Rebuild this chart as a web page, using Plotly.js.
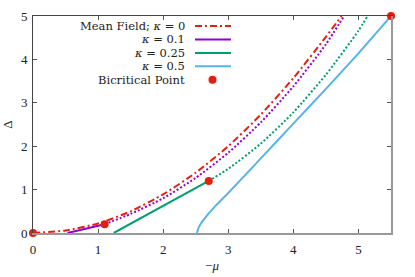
<!DOCTYPE html>
<html><head><meta charset="utf-8">
<script src="https://cdn.plot.ly/plotly-3.0.1.min.js"></script>
<style>html,body{margin:0;padding:0;background:#fff;}#chart{width:415px;height:277px;}</style>
</head><body><div id="chart"></div>
<script>
// Mean field, kappa = 0
const mfX = [0, 0.5, 1, 1.5, 2, 2.5, 3, 3.5, 4, 4.5, 4.74];
const mfY = [0, 0.06, 0.22, 0.5, 0.89, 1.39, 2.0, 2.73, 3.57, 4.52, 5.0];
// kappa = 0.1
const k1SolidX = [0.53, 0.8, 1.1];
const k1SolidY = [0, 0.09, 0.2];
const k1DotX = [1.1, 1.5, 2, 2.5, 3, 3.5, 4, 4.5, 4.78];
const k1DotY = [0.2, 0.44, 0.8, 1.27, 1.85, 2.55, 3.38, 4.35, 5.0];
// kappa = 0.25
const k2SolidX = [1.24, 1.6, 2, 2.35, 2.7];
const k2SolidY = [0, 0.3, 0.62, 0.91, 1.2];
const k2DotX = [2.7, 3, 3.5, 4, 4.5, 5, 5.14];
const k2DotY = [1.2, 1.48, 2.06, 2.78, 3.65, 4.66, 5.0];
// kappa = 0.5
const k3X = [2.52, 2.53, 2.55, 2.58, 2.63, 2.7, 2.8, 2.9, 3.0, 3.5, 4, 4.5, 5, 5.5];
const k3Y = [0, 0.06, 0.14, 0.22, 0.32, 0.45, 0.62, 0.77, 0.92, 1.72, 2.52, 3.32, 4.14, 5.0];
// Bicritical points
const bcX = [0, 1.1, 2.7, 5.5];
const bcY = [0, 0.2, 1.2, 5.0];

const legendLabels = ['Mean Field; <i>κ</i> = 0', '<i>κ</i> = 0.1', '<i>κ</i> = 0.25', '<i>κ</i> = 0.5', 'Bicritical Point'];
const xTicks = [0, 1, 2, 3, 4, 5];
const yTicks = [0, 1, 2, 3, 4, 5];

const RED = '#e51e10', PURPLE = '#9400d3', GREEN = '#009e73', BLUE = '#56b4e9';
const FONT = '"Liberation Serif", "DejaVu Serif", serif';
const LFONT = '"DejaVu Serif", "Liberation Serif", serif';
const DOT = '2px,2px';
const DASHDOT = '7px,3px,2px,3px';

const traces = [
  {x: k3X, y: k3Y, mode: 'lines', line: {color: BLUE, width: 2, shape: 'spline', smoothing: 0.6}},
  {x: k2DotX, y: k2DotY, mode: 'lines', line: {color: GREEN, width: 2, dash: DOT, shape: 'spline', smoothing: 0.6}},
  {x: k2SolidX, y: k2SolidY, mode: 'lines', line: {color: GREEN, width: 2}},
  {x: k1DotX, y: k1DotY, mode: 'lines', line: {color: PURPLE, width: 2, dash: DOT, shape: 'spline', smoothing: 0.6}},
  {x: k1SolidX, y: k1SolidY, mode: 'lines', line: {color: PURPLE, width: 2}},
  {x: mfX, y: mfY, mode: 'lines', line: {color: RED, width: 2, dash: DASHDOT, shape: 'spline', smoothing: 0.6}},
  {x: bcX, y: bcY, mode: 'markers', marker: {color: RED, size: 8}, cliponaxis: false},
  // top / right frame axes
  {x: [], y: [], xaxis: 'x2', yaxis: 'y2', mode: 'lines'}
].map(t => Object.assign({showlegend: false, hoverinfo: 'skip'}, t));

// legend geometry (paper coordinates)
const rowY = [0.954, 0.892, 0.830, 0.768, 0.706];
const textRight = 0.4274, sampleL = 0.4525, sampleR = 0.5531, dotX = 0.5014;
const annotations = legendLabels.map((t, i) => ({
  xref: 'paper', yref: 'paper', x: textRight, y: rowY[i], xanchor: 'right', yanchor: 'middle',
  text: t, showarrow: false, borderpad: 0, font: {family: LFONT, size: 11.5, color: '#222'}
}));
const sampleStyles = [
  {color: RED, width: 2, dash: DASHDOT},
  {color: PURPLE, width: 2},
  {color: GREEN, width: 2},
  {color: BLUE, width: 2}
];
const shapes = sampleStyles.map((s, i) => ({
  type: 'line', xref: 'paper', yref: 'paper', x0: sampleL, x1: sampleR, y0: rowY[i], y1: rowY[i], line: s
}));
shapes.push({type: 'circle', xref: 'paper', yref: 'paper', xsizemode: 'pixel', ysizemode: 'pixel',
  xanchor: dotX, yanchor: rowY[4], x0: -4, x1: 4, y0: -4, y1: 4, fillcolor: RED, line: {width: 0}});

const axisCommon = {
  ticks: 'inside', ticklen: 4, tickcolor: '#555', tickwidth: 1,
  showgrid: false, zeroline: false, fixedrange: true,
  tickfont: {family: FONT, size: 13, color: '#222'}
};

const layout = {
  width: 415, height: 277,
  margin: {l: 33, r: 24, t: 16, b: 44, pad: 0},
  paper_bgcolor: '#fff', plot_bgcolor: '#fff',
  showlegend: false,
  xaxis: Object.assign({}, axisCommon, {
    range: [0, 5.5], tickvals: xTicks, ticktext: xTicks.map(String),
    showline: true, linecolor: '#999', linewidth: 2, ticklabelstandoff: 3,
    title: {text: '−<i>μ</i>', font: {family: FONT, size: 13, color: '#222'}, standoff: 5}
  }),
  yaxis: Object.assign({}, axisCommon, {
    range: [0, 5], tickvals: yTicks, ticktext: yTicks.map(String),
    showline: true, linecolor: '#444', linewidth: 1, ticklabelstandoff: 2,
    title: {text: 'Δ', font: {family: FONT, size: 13, color: '#222'}, standoff: 6}
  }),
  xaxis2: Object.assign({}, axisCommon, {
    overlaying: 'x', side: 'top', matches: 'x', range: [0, 5.5], tickvals: xTicks,
    showticklabels: false, showline: true, linecolor: '#444', linewidth: 1
  }),
  yaxis2: Object.assign({}, axisCommon, {
    overlaying: 'y', side: 'right', matches: 'y', range: [0, 5], tickvals: yTicks,
    showticklabels: false, showline: true, linecolor: '#999', linewidth: 2
  }),
  annotations: annotations,
  shapes: shapes
};

Plotly.newPlot('chart', traces, layout, {displayModeBar: false, staticPlot: true});
</script></body></html>
